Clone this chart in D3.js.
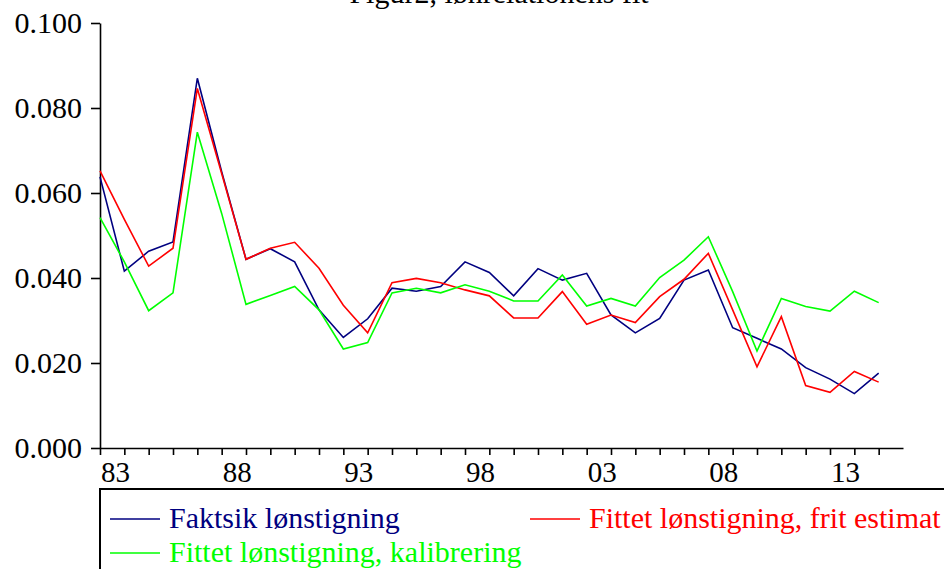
<!DOCTYPE html>
<html>
<head>
<meta charset="utf-8">
<script src="https://cdn.jsdelivr.net/npm/d3@7"></script>
<style>
  html, body { margin: 0; padding: 0; background: #fff; }
  svg { display: block; }
  text { font-family: "Liberation Serif", "Times New Roman", serif; }
</style>
</head>
<body>
<svg id="chart" width="944" height="569"></svg>
<script>
const years = d3.range(1983, 2016);
const faktisk = [0.0638, 0.0416, 0.0463, 0.0485, 0.0870, 0.0650, 0.0444, 0.0469, 0.0438, 0.0325,
                 0.0260, 0.0304, 0.0376, 0.0369, 0.0380, 0.0438, 0.0413, 0.0358, 0.0422, 0.0395,
                 0.0411, 0.0313, 0.0271, 0.0305, 0.0395, 0.0419, 0.0283, 0.0258, 0.0233, 0.0189,
                 0.0162, 0.0128, 0.0176];
const fritEstimat = [0.0652, 0.0538, 0.0428, 0.0470, 0.0846, 0.0646, 0.0444, 0.0470, 0.0484, 0.0423,
                     0.0336, 0.0271, 0.0389, 0.0399, 0.0389, 0.0372, 0.0358, 0.0306, 0.0306, 0.0368,
                     0.0291, 0.0313, 0.0295, 0.0356, 0.0397, 0.0458, 0.0325, 0.0191, 0.0309, 0.0147,
                     0.0131, 0.0180, 0.0155];
const kalibrering = [0.0542, 0.0438, 0.0323, 0.0365, 0.0743, 0.0552, 0.0338, 0.0359, 0.0380, 0.0325,
                     0.0233, 0.0248, 0.0365, 0.0376, 0.0365, 0.0384, 0.0369, 0.0346, 0.0346, 0.0407,
                     0.0334, 0.0352, 0.0334, 0.0401, 0.0442, 0.0497, 0.0368, 0.0228, 0.0352, 0.0333,
                     0.0322, 0.0369, 0.0342];
const yTicks = [0, 0.02, 0.04, 0.06, 0.08, 0.10];
const xLabelYears = [1983, 1988, 1993, 1998, 2003, 2008, 2013];
const xLabels = ["83", "88", "93", "98", "03", "08", "13"];
const seriesNames = ["Faktsik lønstigning", "Fittet lønstigning, frit estimat", "Fittet lønstigning, kalibrering"];
const seriesColors = ["#000080", "#ff0000", "#00ff00"];
const title = "Figur2, lønrelationens fit";

const svg = d3.select("#chart");
const x = d3.scaleLinear().domain([1983, 2016]).range([100, 903]);
const y = d3.scaleLinear().domain([0, 0.1]).range([448, 23]);

// title (partly clipped at top, as in the reference)
svg.append("text").attr("x", 499).attr("y", 3).attr("text-anchor", "middle")
  .attr("font-size", 30).text(title);

// y axis
const yAxis = svg.append("g").attr("transform", "translate(100,0)")
  .call(d3.axisLeft(y).tickValues(yTicks).tickFormat(d3.format(".3f")).tickSize(9).tickSizeOuter(0).tickPadding(9));
yAxis.selectAll("text").attr("font-size", 30).attr("font-family", "Liberation Serif").attr("fill", "#000");
yAxis.selectAll("path,line").attr("stroke", "#000").attr("stroke-width", 1.6);

// x axis
const xAxis = svg.append("g").attr("transform", "translate(0,448)")
  .call(d3.axisBottom(x).tickValues(years).tickFormat("").tickSize(7).tickSizeOuter(0));
xAxis.selectAll("path,line").attr("stroke", "#000").attr("stroke-width", 1.6);
svg.append("g").selectAll("text").data(xLabelYears).join("text")
  .attr("x", d => x(d) + 1).attr("y", 482).attr("font-size", 29)
  .text((d, i) => xLabels[i]);

// lines
const allSeries = [faktisk, fritEstimat, kalibrering];
const line = d3.line().x((d, i) => x(years[i])).y(d => y(d));
svg.append("g").selectAll("path").data(allSeries).join("path")
  .attr("d", d => line(d)).attr("fill", "none")
  .attr("stroke", (d, i) => seriesColors[i]).attr("stroke-width", 1.6)
  .attr("stroke-linejoin", "miter");

// legend box
svg.append("path").attr("d", "M100,569 V489 H944").attr("fill", "none")
  .attr("stroke", "#000").attr("stroke-width", 2);
const legendPos = [{lx: 110, ly: 519, tx: 169, ty: 528},
                   {lx: 530, ly: 519, tx: 589, ty: 528},
                   {lx: 110, ly: 553, tx: 169, ty: 562}];
const lg = svg.append("g");
legendPos.forEach((p, i) => {
  lg.append("line").attr("x1", p.lx).attr("x2", p.lx + 50).attr("y1", p.ly).attr("y2", p.ly)
    .attr("stroke", seriesColors[i]).attr("stroke-width", 1.6);
  lg.append("text").attr("x", p.tx).attr("y", p.ty).attr("font-size", 30)
    .attr("fill", seriesColors[i]).text(seriesNames[i]);
});
</script>
</body>
</html>
